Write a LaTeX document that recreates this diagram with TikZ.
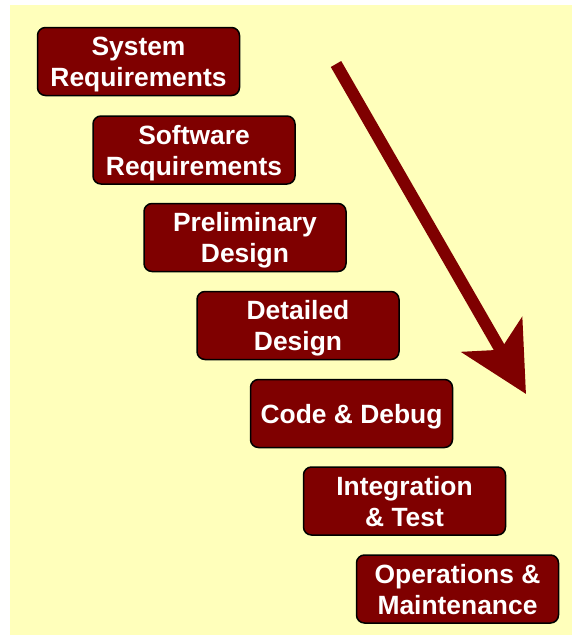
\documentclass[tikz,border=0pt]{standalone}
\usepackage{fontspec}
\setmainfont{Liberation Sans}
\usetikzlibrary{arrows.meta}
\definecolor{paleyellow}{HTML}{FFFFBB}
\definecolor{maroon}{HTML}{7F0000}
\begin{document}
\begin{tikzpicture}[x=1pt,y=-1pt]

      \useasboundingbox (0,0) rectangle (572,635);
      \fill[paleyellow] (10,5) rectangle (572,635);

      \begin{scope}[every node/.style={draw=black,line width=1.5pt,fill=maroon,
          rounded corners=8pt,minimum width=202pt,minimum height=68pt,inner sep=0pt,
          text depth=0pt,text=white,align=center,font=\fontsize{26.4}{31}\selectfont\bfseries}]
        \node (1) at (138.5,61.5) {System\\Requirements};
        \node (2) at (194,150)    {Software\\Requirements};
        \node (3) at (245,237.5)  {Preliminary\\Design};
        \node (4) at (298,325.5)  {Detailed\\Design};
        \node (5) at (351.5,413.5) {Code \& Debug};
        \node (6) at (404.5,501)  {Integration\\\& Test};
        \node (7) at (457.5,589)  {Operations \&\\Maintenance};
      \end{scope}

      \coordinate (start) at (336,64);
      \coordinate (tip)   at (526,394);
      \draw[maroon,line width=12pt,-{Stealth[length=68pt,width=69pt,inset=17pt]}] (start) -- (tip);

    \end{tikzpicture}
\end{document}
